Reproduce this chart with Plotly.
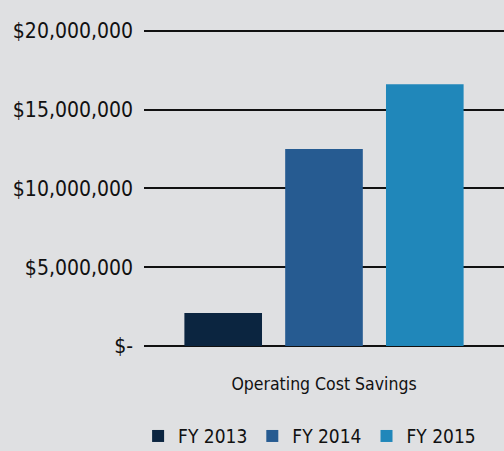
import plotly.graph_objects as go

# ---------------- data ----------------
category = ["Operating Cost Savings"]
years = ["FY 2013", "FY 2014", "FY 2015"]
savings = [2100000, 12500000, 16600000]
colors = ["#0b2540", "#265b91", "#2087ba"]
tick_vals = [0, 5000000, 10000000, 15000000, 20000000]
tick_text = ["$-", "$5,000,000", "$10,000,000", "$15,000,000", "$20,000,000"]

FONT = "DejaVu Sans Condensed, Roboto, sans-serif"

fig = go.Figure()
for name, val, col in zip(years, savings, colors):
    fig.add_trace(go.Bar(
        x=category, y=[val], name=name,
        marker=dict(color=col, line=dict(width=0)),
    ))

fig.update_layout(
    width=504, height=451,
    paper_bgcolor="#dfe0e2", plot_bgcolor="#dfe0e2",
    margin=dict(l=144, r=0, t=26, b=105),
    barmode="group", bargap=0.16, bargroupgap=0.23,
    font=dict(family=FONT, color="#111111", size=20),
    showlegend=True,
    legend=dict(
        orientation="h", xref="paper", x=0.46, xanchor="center",
        yref="container", y=0.033, yanchor="middle",
        font=dict(family=FONT, size=19), bgcolor="rgba(0,0,0,0)",
        traceorder="normal",
    ),
)
fig.update_yaxes(
    range=[0, 20300000], tickvals=tick_vals, ticktext=tick_text,
    showgrid=True, gridcolor="#111111", gridwidth=2,
    zeroline=True, zerolinecolor="#111111", zerolinewidth=2,
    tickfont=dict(family=FONT, size=21), ticks="", ticklabelstandoff=10,
    automargin=False,
)
fig.update_xaxes(
    showline=False, ticks="", automargin=False,
    tickfont=dict(family=FONT, size=17.5), ticklabelstandoff=25,
)

fig.write_html("out.html", config=dict(displayModeBar=False),
               post_script="document.body.style.margin='0';")
